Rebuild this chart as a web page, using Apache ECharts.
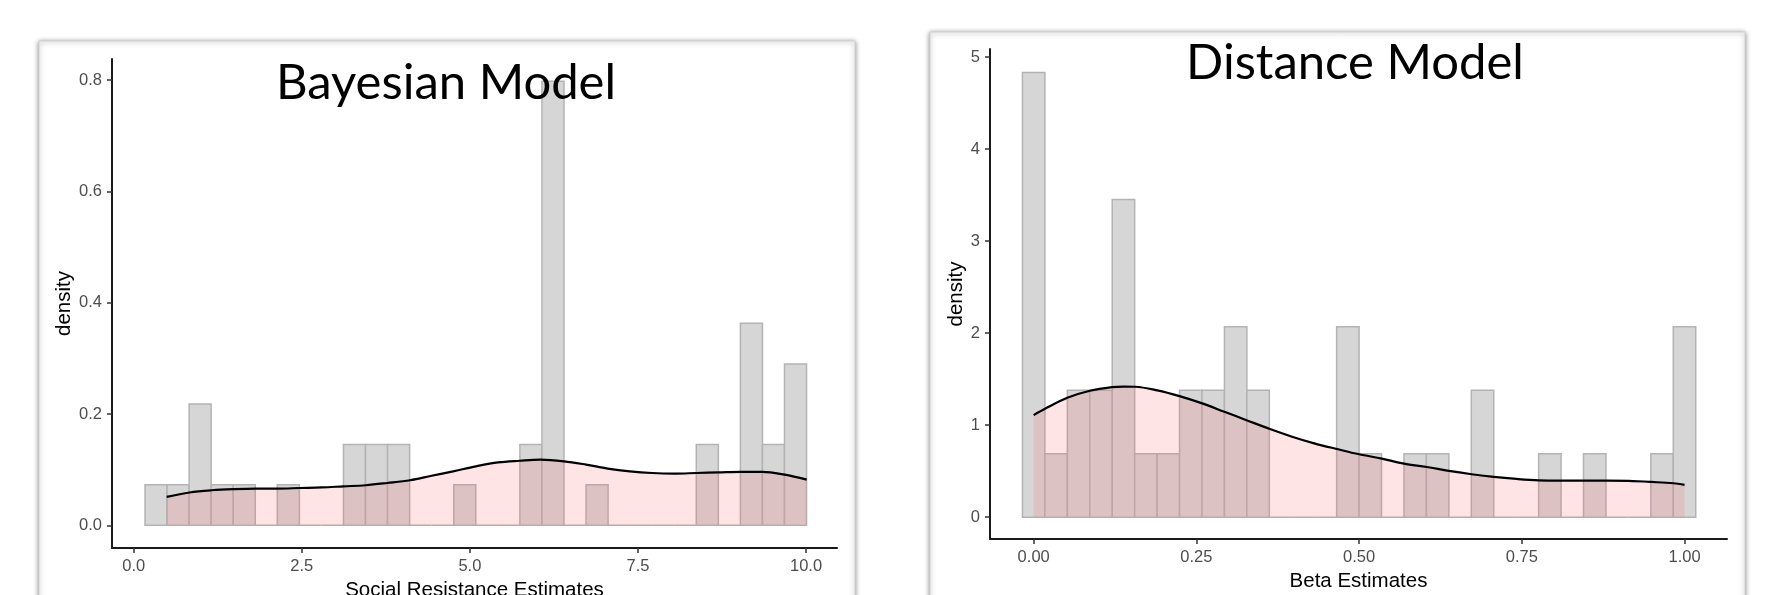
<!DOCTYPE html>
<html><head><meta charset="utf-8">
<script src="https://cdn.jsdelivr.net/npm/echarts@6/dist/echarts.min.js"></script>
<style>html,body{margin:0;padding:0;background:#fff}#c{width:1781px;height:595px}</style>
</head><body><div id="c"></div>
<script>
// ---------- Bayesian Model (left) ----------
const bayesTitle = 'Bayesian Model';
const bayesXName = 'Social Resistance Estimates';
const bayesBinStart = 0.168;
const bayesBinWidth = 0.328;
const bayesDensity = [0.073,0.073,0.218,0.073,0.073,0,0.073,0,0,0.145,0.145,0.145,0,0,0.073,0,0,0.145,0.798,0,0.073,0,0,0,0,0.145,0,0.363,0.145,0.290];
const bayesCurveX = [0.49,0.83,1.16,1.48,1.81,2.14,2.47,2.80,3.12,3.45,3.77,4.11,4.43,4.75,5.09,5.42,5.74,6.05,6.40,6.73,7.05,7.38,7.71,8.05,8.37,8.70,9.03,9.35,9.68,10.01];
const bayesCurveY = [0.051,0.059,0.063,0.065,0.066,0.066,0.067,0.068,0.070,0.072,0.076,0.081,0.089,0.097,0.106,0.113,0.116,0.118,0.115,0.109,0.102,0.097,0.094,0.093,0.094,0.095,0.096,0.096,0.091,0.082];
const bayesTicksX = [0,2.5,5,7.5,10];
const bayesTickLabelsX = ['0.0','2.5','5.0','7.5','10.0'];
const bayesTicksY = [0,0.2,0.4,0.6,0.8];
const bayesTickLabelsY = ['0.0','0.2','0.4','0.6','0.8'];

// ---------- Distance Model (right) ----------
const distTitle = 'Distance Model';
const distXName = 'Beta Estimates';
const distBinStart = -0.01724;
const distBinWidth = 0.03448;
const distDensity = [4.833,0.690,1.381,1.381,3.452,0.690,0.690,1.381,1.381,2.071,1.381,0,0,0,2.071,0.690,0,0.690,0.690,0,1.381,0,0,0.690,0,0.690,0,0,0.690,2.071];
const distCurveX = [0.0,0.0174,0.0517,0.0865,0.121,0.138,0.156,0.190,0.224,0.259,0.293,0.328,0.363,0.397,0.431,0.466,0.500,0.535,0.569,0.604,0.638,0.673,0.707,0.742,0.776,0.811,0.845,0.880,0.914,0.949,0.983,1.0];
const distCurveY = [1.110,1.179,1.298,1.374,1.414,1.420,1.418,1.378,1.316,1.237,1.146,1.052,0.958,0.875,0.803,0.741,0.684,0.637,0.582,0.546,0.503,0.467,0.438,0.416,0.401,0.398,0.398,0.398,0.394,0.383,0.369,0.351];
const distTicksX = [0,0.25,0.5,0.75,1];
const distTickLabelsX = ['0.00','0.25','0.50','0.75','1.00'];
const distTicksY = [0,1,2,3,4,5];
const distTickLabelsY = ['0','1','2','3','4','5'];

const FONT = 'Liberation Sans, Arial, sans-serif';

function bins(start, width, dens) {
  return dens.map((h, i) => [start + i * width, start + (i + 1) * width, h]);
}
function curve(xs, ys) { return xs.map((x, i) => [x, ys[i]]); }

function histRender(params, api) {
  const p0 = api.coord([api.value(0), 0]);
  const p1 = api.coord([api.value(1), api.value(2)]);
  return {
    type: 'rect',
    shape: { x: p0[0], y: p1[1], width: p1[0] - p0[0], height: p0[1] - p1[1] },
    style: { fill: '#d6d6d6', stroke: '#b3b3b3', lineWidth: 1.5 }
  };
}

function xAxisDef(gi, min, max, ticks, labels, name, gap) {
  return {
    type: 'value', gridIndex: gi, min: min, max: max,
    name: name, nameLocation: 'middle', nameGap: gap,
    nameTextStyle: { color: '#000', fontSize: 20.5, fontFamily: FONT },
    axisLine: { show: true, onZero: false, lineStyle: { color: '#1a1a1a', width: 2 } },
    axisTick: { show: true, length: 5, customValues: ticks, lineStyle: { color: '#333', width: 1.5 } },
    axisLabel: { show: true, customValues: ticks, margin: 10, color: '#4d4d4d', fontSize: 16.5, fontFamily: FONT,
      formatter: v => labels[ticks.findIndex(t => Math.abs(t - v) < 1e-9)] },
    splitLine: { show: false }
  };
}
function yAxisDef(gi, min, max, ticks, labels, gap) {
  return {
    type: 'value', gridIndex: gi, min: min, max: max,
    name: 'density', nameLocation: 'middle', nameGap: gap,
    nameTextStyle: { color: '#000', fontSize: 20.5, fontFamily: FONT },
    axisLine: { show: true, onZero: false, lineStyle: { color: '#1a1a1a', width: 2 } },
    axisTick: { show: true, length: 5, customValues: ticks, lineStyle: { color: '#333', width: 1.5 } },
    axisLabel: { show: true, customValues: ticks, margin: 10, color: '#4d4d4d', fontSize: 16.5, fontFamily: FONT,
      formatter: v => labels[ticks.findIndex(t => Math.abs(t - v) < 1e-9)] },
    splitLine: { show: false }
  };
}

const chart = echarts.init(document.getElementById('c'), null, { renderer: 'canvas' });
chart.setOption({
  animation: false,
  backgroundColor: '#fff',
  graphic: [
    { type: 'rect', z: -10, silent: true, shape: { x: 39, y: 41, width: 816, height: 600 },
      style: { fill: '#fff', stroke: '#d0d0d0', lineWidth: 1, shadowBlur: 5, shadowColor: 'rgba(0,0,0,0.45)', shadowOffsetY: 1 } },
    { type: 'rect', z: -10, silent: true, shape: { x: 930, y: 32, width: 815, height: 600 },
      style: { fill: '#fff', stroke: '#d0d0d0', lineWidth: 1, shadowBlur: 5, shadowColor: 'rgba(0,0,0,0.45)', shadowOffsetY: 1 } },
    { type: 'text', z: 100, silent: true, x: 446, y: 83,
      style: { text: bayesTitle, fill: '#000', font: '49px Lato', textAlign: 'center', textVerticalAlign: 'middle' } },
    { type: 'text', z: 100, silent: true, x: 1355, y: 63,
      style: { text: distTitle, fill: '#000', font: '49px Lato', textAlign: 'center', textVerticalAlign: 'middle' } }
  ],
  grid: [
    { left: 112, right: 944, top: 59, bottom: 47, outerBoundsMode: 'none', containLabel: false },
    { left: 990, right: 54, top: 49, bottom: 56, outerBoundsMode: 'none', containLabel: false }
  ],
  xAxis: [
    xAxisDef(0, -0.323, 10.461, bayesTicksX, bayesTickLabelsX, bayesXName, 30),
    xAxisDef(1, -0.0671, 1.0652, distTicksX, distTickLabelsX, distXName, 32)
  ],
  yAxis: [
    yAxisDef(0, -0.0408, 0.838, bayesTicksY, bayesTickLabelsY, 37),
    yAxisDef(1, -0.237, 5.089, distTicksY, distTickLabelsY, 23)
  ],
  series: [
    { type: 'custom', xAxisIndex: 0, yAxisIndex: 0, renderItem: histRender, encode: { x: [0, 1], y: 2 },
      data: bins(bayesBinStart, bayesBinWidth, bayesDensity), clip: false },
    { type: 'line', xAxisIndex: 0, yAxisIndex: 0, data: curve(bayesCurveX, bayesCurveY), smooth: 0.35,
      showSymbol: false, symbol: 'none', lineStyle: { color: '#000', width: 2.2 },
      areaStyle: { color: 'rgba(255,102,110,0.25)', origin: 0 } },
    { type: 'custom', xAxisIndex: 1, yAxisIndex: 1, renderItem: histRender, encode: { x: [0, 1], y: 2 },
      data: bins(distBinStart, distBinWidth, distDensity), clip: false },
    { type: 'line', xAxisIndex: 1, yAxisIndex: 1, data: curve(distCurveX, distCurveY), smooth: 0.35,
      showSymbol: false, symbol: 'none', lineStyle: { color: '#000', width: 2.2 },
      areaStyle: { color: 'rgba(255,102,110,0.25)', origin: 0 } }
  ]
});
</script></body></html>
